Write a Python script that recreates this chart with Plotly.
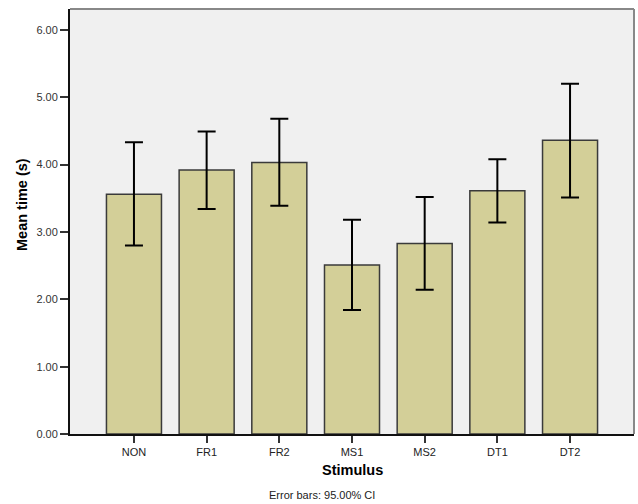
import plotly.graph_objects as go

categories = ["NON", "FR1", "FR2", "MS1", "MS2", "DT1", "DT2"]
means = [3.56, 3.92, 4.03, 2.51, 2.83, 3.61, 4.36]
ci_upper = [4.33, 4.49, 4.68, 3.18, 3.52, 4.08, 5.20]
ci_lower = [2.80, 3.34, 3.39, 1.84, 2.14, 3.14, 3.51]
y_ticks = [0, 1, 2, 3, 4, 5, 6]
y_tick_labels = ["0.00", "1.00", "2.00", "3.00", "4.00", "5.00", "6.00"]

err_plus = [u - m for u, m in zip(ci_upper, means)]
err_minus = [m - l for m, l in zip(means, ci_lower)]

W, H = 638, 504
L, R, T, B = 70, 4, 9, 70
pw = W - L - R
ph = H - T - B

fig = go.Figure()
fig.add_trace(go.Bar(
    x=list(range(len(categories))),
    y=means,
    width=0.757,
    marker=dict(color="#d3cf98", line=dict(color="#3a3a3a", width=1.5)),
    error_y=dict(type="data", symmetric=False, array=err_plus, arrayminus=err_minus,
                 color="#000000", thickness=2, width=9),
    hoverinfo="skip",
))

font = "Liberation Sans, Arial, sans-serif"
fig.update_layout(
    width=W, height=H,
    margin=dict(l=L, r=R, t=T, b=B),
    paper_bgcolor="white",
    plot_bgcolor="#f0f0f0",
    showlegend=False,
    font=dict(family=font, size=11, color="#333333"),
    xaxis=dict(
        range=[-0.88, 6.88],
        tickmode="array",
        tickvals=list(range(len(categories))),
        ticktext=categories,
        ticks="outside", ticklen=7, tickwidth=1.5, tickcolor="#333333",
        showgrid=False, zeroline=False,
        showline=True, linecolor="#111111", linewidth=2,
        tickfont=dict(size=11, color="#222222", family=font),
    ),
    yaxis=dict(
        range=[0, 6.31],
        tickmode="array",
        tickvals=y_ticks,
        ticktext=y_tick_labels,
        ticks="outside", ticklen=8, tickwidth=1.5, tickcolor="#333333",
        showgrid=False, zeroline=False,
        showline=True, linecolor="#111111", linewidth=2,
        tickfont=dict(size=11, color="#333333", family=font),
    ),
    shapes=[
        dict(type="line", xref="paper", yref="paper", x0=0, x1=1, y0=1, y1=1,
             line=dict(color="#888888", width=2)),
        dict(type="line", xref="paper", yref="paper", x0=1, x1=1, y0=0, y1=1,
             line=dict(color="#888888", width=2)),
    ],
    annotations=[
        dict(text="<b>Mean time (s)</b>", textangle=-90, showarrow=False,
             xref="paper", yref="paper",
             x=(22 - L) / pw, y=(H - B - 205) / ph,
             xanchor="center", yanchor="middle",
             font=dict(size=14.5, color="#000000", family=font)),
        dict(text="<b>Stimulus</b>", showarrow=False,
             xref="paper", yref="paper",
             x=(352 - L) / pw, y=-(470 - (H - B)) / ph,
             xanchor="center", yanchor="middle",
             font=dict(size=14.5, color="#000000", family=font)),
        dict(text="Error bars: 95.00% CI", showarrow=False,
             xref="paper", yref="paper",
             x=(322 - L) / pw, y=-(495 - (H - B)) / ph,
             xanchor="center", yanchor="middle",
             font=dict(size=11, color="#222222", family=font)),
    ],
)

fig.write_html("out.html")
